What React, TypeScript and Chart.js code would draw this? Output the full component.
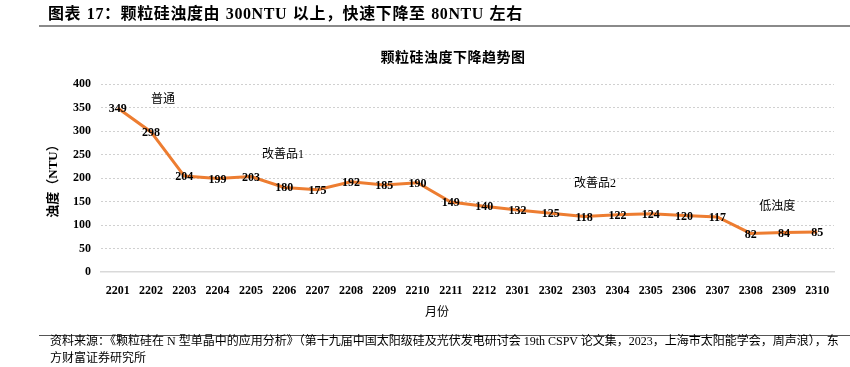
import React, { useEffect, useRef } from "react";
import { Chart, registerables } from "chart.js";

Chart.register(...registerables);

const months = ["2201","2202","2203","2204","2205","2206","2207","2208","2209","2210","2211","2212","2301","2302","2303","2304","2305","2306","2307","2308","2309","2310"];
const turbidity = [349,298,204,199,203,180,175,192,185,190,149,140,132,125,118,122,124,120,117,82,84,85];
const yTicks = [0, 50, 100, 150, 200, 250, 300, 350, 400];
const stageLabels = ["普通", "改善品1", "改善品2", "低浊度"];
const stageAtIndex = [1.36, 4.96, 14.33, 19.8];
const stageAtValue = [366, 250, 188, 139];

const mainTitle = "图表 17：颗粒硅浊度由 300NTU 以上，快速下降至 80NTU 左右";
const chartTitle = "颗粒硅浊度下降趋势图";
const yTitle = "浊度（NTU）";
const xTitle = "月份";
const sourceLine1 = "资料来源：《颗粒硅在 N 型单晶中的应用分析》（第十九届中国太阳级硅及光伏发电研讨会 19th CSPV 论文集，2023，上海市太阳能学会，周声浪），东";
const sourceLine2 = "方财富证券研究所";

const SERIF = '"Liberation Serif", "Noto Sans CJK SC", serif';

const overlayPlugin = {
  id: "overlay",
  afterDatasetsDraw(chart: any) {
    const ctx = chart.ctx;
    const xs = chart.scales.x;
    const ys = chart.scales.y;
    const meta = chart.getDatasetMeta(0);
    ctx.save();
    ctx.fillStyle = "#000";
    ctx.textAlign = "center";
    ctx.textBaseline = "middle";
    ctx.font = `bold 12px ${SERIF}`;
    meta.data.forEach((pt: any, i: number) => {
      ctx.fillText(String(turbidity[i]), pt.x, pt.y + 1);
    });
    ctx.font = `12px ${SERIF}`;
    stageLabels.forEach((t, i) => {
      ctx.fillText(t, xs.getPixelForValue(stageAtIndex[i]), ys.getPixelForValue(stageAtValue[i]));
    });
    ctx.save();
    ctx.translate(54, (chart.chartArea.top + chart.chartArea.bottom) / 2);
    ctx.rotate(-Math.PI / 2);
    ctx.font = `bold 13px ${SERIF}`;
    ctx.fillText(yTitle, 0, 0);
    ctx.restore();
    ctx.restore();
  },
};

export default function App() {
  const ref = useRef<HTMLCanvasElement | null>(null);
  useEffect(() => {
    if (!ref.current) return;
    const chart = new Chart(ref.current, {
      type: "line",
      data: {
        labels: months,
        datasets: [
          {
            data: turbidity,
            borderColor: "#ED7D31",
            borderWidth: 3,
            pointRadius: 0,
            tension: 0,
            fill: false,
          },
        ],
      },
      options: {
        responsive: false,
        animation: false,
        devicePixelRatio: 1,
        layout: { padding: { top: 84, right: 16, left: 0, bottom: 0 } },
        plugins: { legend: { display: false }, tooltip: { enabled: false }, title: { display: false } },
        scales: {
          x: {
            offset: true,
            grid: { display: false, drawTicks: false, offset: true },
            border: { display: true, color: "#d9d9d9", width: 1.5 },
            ticks: { color: "#000", font: { family: SERIF, size: 12, weight: "bold" }, padding: 12, maxRotation: 0, autoSkip: false },
            afterFit(s: any) { s.height = 95; },
          },
          y: {
            min: 0,
            max: 400,
            afterBuildTicks(s: any) { s.ticks = yTicks.map((v) => ({ value: v })); },
            grid: {
              drawTicks: false,
              color: (c: any) => (c.tick && c.tick.value === 0 ? "rgba(0,0,0,0)" : "#d0d0d0"),
              lineWidth: 1,
            },
            border: { display: false, dash: [2, 2] },
            ticks: { color: "#000", font: { family: SERIF, size: 12, weight: "bold" }, padding: 10 },
            afterFit(s: any) { s.width = 101; },
          },
        },
      },
      plugins: [overlayPlugin],
    } as any);
    return () => chart.destroy();
  }, []);

  return (
    <div style={{ position: "fixed", left: 0, top: 0, width: 850, height: 367, background: "#fff", overflow: "hidden", fontFamily: SERIF }}>
      <canvas ref={ref} width={850} height={367} style={{ position: "absolute", left: 0, top: 0, width: 850, height: 367 }} />
      <div style={{ position: "absolute", left: 48, top: 4, fontSize: 16, fontWeight: "bold", whiteSpace: "nowrap", lineHeight: "20px", color: "#000", letterSpacing: "0.6px", wordSpacing: "1px" }}>{mainTitle}</div>
      <div style={{ position: "absolute", left: 39, top: 25, width: 811, height: 2, background: "#8a8a8a" }} />
      <div style={{ position: "absolute", left: 353, width: 200, top: 49, textAlign: "center", fontSize: 14, fontWeight: "bold", lineHeight: "18px", color: "#000", letterSpacing: "0.5px" }}>{chartTitle}</div>
      <div style={{ position: "absolute", left: 387, width: 100, top: 304, textAlign: "center", fontSize: 12, lineHeight: "16px", color: "#000" }}>{xTitle}</div>
      <div style={{ position: "absolute", left: 39, top: 335, width: 811, height: 1, background: "#555" }} />
      <div style={{ position: "absolute", left: 50, top: 333, fontSize: 12, whiteSpace: "nowrap", lineHeight: "17px", color: "#000", letterSpacing: "0px" }}>{sourceLine1}</div>
      <div style={{ position: "absolute", left: 50, top: 350, fontSize: 12, whiteSpace: "nowrap", lineHeight: "17px", color: "#000" }}>{sourceLine2}</div>
    </div>
  );
}
